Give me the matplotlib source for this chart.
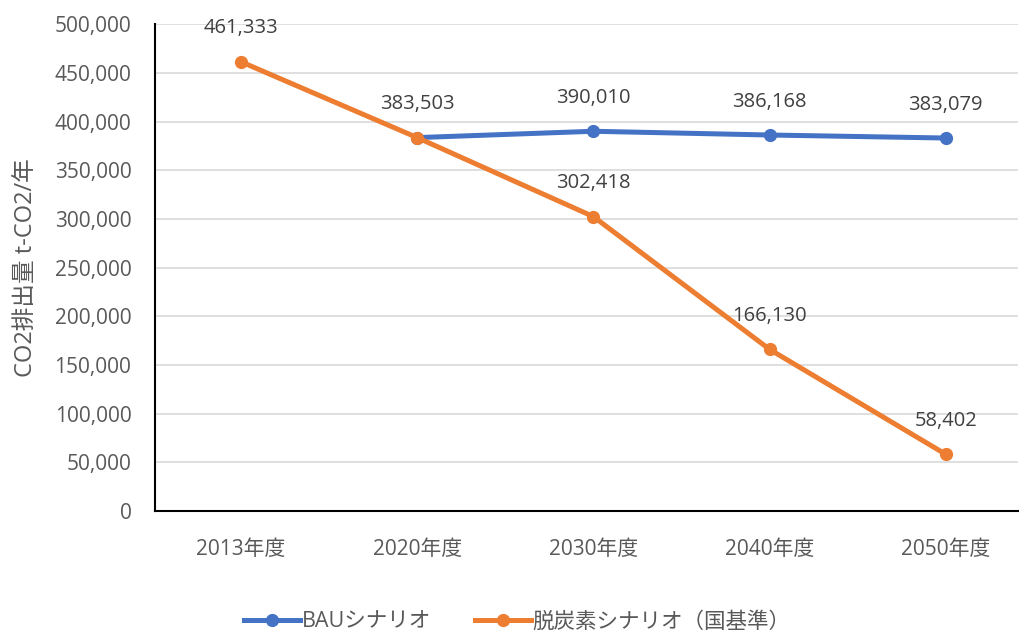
import numpy as np
import matplotlib.pyplot as plt
from matplotlib.ticker import FuncFormatter

plt.rcParams['font.family'] = ['Open Sans', 'Noto Sans CJK JP', 'DejaVu Sans']

# data
categories = ['2013年度', '2020年度', '2030年度', '2040年度', '2050年度']
bau = [np.nan, 383503, 390010, 386168, 383079]
decarb = [461333, 383503, 302418, 166130, 58402]
series_names = ['BAUシナリオ', '脱炭素シナリオ（国基準）']

blue = '#4472C4'
orange = '#ED7D31'
text_col = '#595959'
label_col = '#404040'

fig = plt.figure(figsize=(10.2, 6.35), dpi=100)
ax1 = fig.add_axes([0.152, 0.195, 0.846, 0.767])

x = np.arange(len(categories))
ax1.plot(x, bau, color=blue, lw=3.6, marker='o', ms=8.5, label=series_names[0], zorder=3)
ax1.plot(x, decarb, color=orange, lw=3.6, marker='o', ms=8.5, label=series_names[1], zorder=4)

# data labels (2020 labels overlap, draw once)
for i, v in enumerate(bau):
    if not np.isnan(v):
        ax1.annotate(f'{v:,.0f}', (x[i], v), xytext=(0, 24), textcoords='offset points',
                     ha='center', va='center', fontsize=14.5, color=label_col)
for i, v in enumerate(decarb):
    if i == 1:
        continue
    ax1.annotate(f'{v:,.0f}', (x[i], v), xytext=(0, 24), textcoords='offset points',
                 ha='center', va='center', fontsize=14.5, color=label_col)

ax1.set_ylim(0, 500000)
ax1.set_xlim(-0.488, 4.41)
ax1.set_yticks(np.arange(0, 500001, 50000))
ax1.yaxis.set_major_formatter(FuncFormatter(lambda v, p: f'{v:,.0f}'))
ax1.set_xticks(x)
ax1.set_xticklabels(categories)
ax1.tick_params(length=0, labelsize=15, colors=text_col)
ax1.tick_params(axis='y', pad=17)
ax1.tick_params(axis='x', pad=20)
ax1.grid(axis='y', color='#D9D9D9', lw=1.2)
ax1.set_axisbelow(True)
for s in ['top', 'right']:
    ax1.spines[s].set_visible(False)
for s in ['left', 'bottom']:
    ax1.spines[s].set_color('black')
    ax1.spines[s].set_linewidth(1.5)

ax1.set_ylabel('CO2排出量 t-CO2/年', fontsize=17, color=text_col)
ax1.yaxis.set_label_coords(-0.1356, 0.5)

ax1.legend(loc='center', bbox_to_anchor=(0.42, -0.228), ncol=2, frameon=False,
           fontsize=15.5, handlelength=2.6, columnspacing=2.0, labelcolor=text_col,
           handletextpad=0.1)

plt.savefig('out.png')
